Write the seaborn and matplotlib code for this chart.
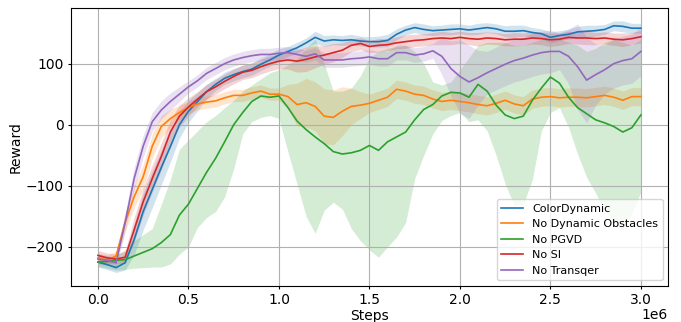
import numpy as np
import pandas as pd
import matplotlib
matplotlib.use("Agg")
import matplotlib.pyplot as plt
import seaborn as sns

# ---------------- data ----------------
steps = np.linspace(0, 3e6, 61)

methods = ["ColorDynamic", "No Dynamic Obstacles", "No PGVD", "No SI", "No Transqer"]
colors = ["#1f77b4", "#ff7f0e", "#2ca02c", "#d62728", "#9467bd"]

color_dynamic = [-225, -229, -234, -226, -188, -142, -106, -70, -36, 0,
                 22, 38, 54, 66, 76, 82, 87, 91, 99, 106,
                 114, 120, 126, 134, 143, 137, 139, 138, 139, 137,
                 136, 136, 138, 148, 155, 159, 156, 154, 155, 156,
                 157, 155, 157, 159, 157, 153, 153, 154, 151, 149,
                 143, 146, 148, 152, 153, 154, 156, 162, 161, 158, 158]
color_dynamic_hw = [8, 8, 8, 12, 25, 30, 30, 28, 25, 22,
                    18, 15, 12, 10, 10, 10, 10, 10, 10, 10,
                    10, 8, 9, 8, 10, 9, 8, 8, 9, 8,
                    8, 9, 10, 9, 8, 8, 9, 8, 8, 9,
                    8, 8, 9, 8, 8, 9, 10, 9, 8, 8,
                    9, 8, 8, 9, 10, 9, 8, 8, 9, 8, 8]

no_dyn_obs = [-218, -222, -215, -160, -118, -85, -35, -3, 10, 20,
              28, 34, 37, 39, 44, 48, 48, 52, 55, 50,
              50, 46, 33, 36, 30, 14, 12, 22, 30, 32,
              35, 40, 45, 58, 55, 50, 48, 42, 38, 40,
              38, 36, 33, 31, 35, 40, 34, 31, 42, 45,
              46, 44, 45, 45, 44, 46, 48, 45, 40, 46, 46]
no_dyn_obs_hw = [8, 8, 8, 15, 18, 20, 20, 18, 15, 12,
                 10, 10, 10, 10, 10, 10, 10, 10, 10, 10,
                 10, 20, 35, 40, 40, 45, 45, 40, 30, 22,
                 15, 15, 15, 15, 15, 15, 15, 15, 15, 15,
                 15, 15, 15, 15, 15, 15, 15, 15, 15, 15,
                 15, 15, 15, 15, 15, 15, 15, 15, 15, 15, 15]

no_pgvd = [-225, -224, -222, -221, -215, -209, -203, -193, -180, -148,
           -130, -104, -78, -55, -28, 0, 20, 38, 47, 45,
           47, 28, 6, -8, -20, -31, -44, -48, -46, -42,
           -34, -42, -28, -20, -12, 8, 25, 33, 47, 53,
           52, 45, 66, 55, 32, 16, 10, 14, 40, 60,
           78, 68, 45, 28, 18, 8, 3, -3, -12, -5, 16]
no_pgvd_low = [-232, -235, -238, -237, -235, -234, -233, -233, -228, -212,
               -200, -168, -152, -142, -118, -72, -15, 5, 12, 15,
               10, -45, -97, -150, -178, -140, -127, -138, -170, -190,
               -205, -217, -200, -184, -160, -88, -50, -15, 7, 15,
               20, 5, 8, -10, -50, -97, -132, -130, -90, -10,
               20, 28, -4, -48, -86, -112, -140, -160, -173, -145, -110]
no_pgvd_high = [-215, -218, -215, -205, -190, -180, -170, -130, -90, -40,
                -25, -10, 5, 15, 28, 40, 55, 65, 75, 85,
                90, 98, 108, 125, 140, 100, 55, 55, 60, 80,
                110, 120, 125, 128, 130, 120, 100, 70, 65, 70,
                90, 110, 130, 135, 135, 135, 130, 130, 135, 140,
                140, 140, 135, 130, 120, 125, 135, 140, 135, 130, 140]

no_si = [-214, -218, -220, -217, -172, -126, -88, -52, -12, 14,
         29, 42, 54, 62, 71, 79, 86, 89, 95, 100,
         104, 106, 104, 107, 111, 114, 118, 122, 130, 133,
         128, 130, 131, 134, 136, 138, 139, 141, 142, 141,
         143, 141, 140, 142, 141, 139, 140, 140, 142, 141,
         139, 140, 143, 142, 142, 141, 142, 140, 139, 141, 144]
no_si_hw = [8, 8, 8, 10, 20, 22, 22, 22, 20, 18,
            15, 12, 12, 12, 12, 12, 12, 12, 12, 12,
            12, 15, 18, 20, 18, 15, 15, 12, 10, 10,
            10, 11, 10, 10, 11, 10, 10, 10, 11, 10,
            10, 10, 11, 10, 10, 10, 11, 10, 10, 10,
            11, 10, 10, 10, 11, 10, 10, 10, 11, 10, 10]

no_transqer = [-220, -222, -226, -160, -88, -35, 5, 24, 38, 50,
               62, 72, 84, 92, 100, 106, 110, 113, 115, 115,
               117, 118, 115, 112, 116, 106, 106, 106, 108, 109,
               111, 108, 108, 118, 118, 114, 116, 121, 112, 92,
               79, 70, 77, 85, 92, 99, 105, 109, 114, 118,
               120, 120, 112, 95, 73, 82, 90, 100, 105, 108, 120]
no_transqer_hw = [8, 8, 8, 15, 18, 18, 15, 15, 14, 12,
                  10, 10, 10, 10, 10, 10, 10, 10, 10, 10,
                  10, 10, 10, 10, 10, 12, 12, 12, 12, 12,
                  12, 12, 12, 12, 12, 12, 12, 12, 30, 45,
                  60, 60, 45, 35, 35, 35, 35, 35, 35, 35,
                  35, 30, 45, 70, 70, 50, 40, 40, 40, 40, 40]

# ---------------- build table ----------------
means = [color_dynamic, no_dyn_obs, no_pgvd, no_si, no_transqer]
lows = [np.array(color_dynamic) - np.array(color_dynamic_hw),
        np.array(no_dyn_obs) - np.array(no_dyn_obs_hw),
        np.array(no_pgvd_low),
        np.array(no_si) - np.array(no_si_hw),
        np.array(no_transqer) - np.array(no_transqer_hw)]
highs = [np.array(color_dynamic) + np.array(color_dynamic_hw),
         np.array(no_dyn_obs) + np.array(no_dyn_obs_hw),
         np.array(no_pgvd_high),
         np.array(no_si) + np.array(no_si_hw),
         np.array(no_transqer) + np.array(no_transqer_hw)]

df = pd.concat([pd.DataFrame({"Steps": steps, "Reward": m, "Method": name})
                for name, m in zip(methods, means)], ignore_index=True)

# ---------------- plot ----------------
fig, ax = plt.subplots(figsize=(6.81, 3.22), dpi=100)
fig.subplots_adjust(left=0.104, right=0.981, top=0.975, bottom=0.112)

for lo, hi, c in zip(lows, highs, colors):
    ax.fill_between(steps, lo, hi, color=c, alpha=0.2, linewidth=0)

sns.lineplot(data=df, x="Steps", y="Reward", hue="Method",
             hue_order=methods, palette=colors, linewidth=1.2, ax=ax)

ax.grid(True, color="#b0b0b0", linewidth=0.8)
ax.set_ylim(-264, 191)
ax.set_xlabel("Steps", fontsize=10)
ax.set_ylabel("Reward", fontsize=10)
ax.tick_params(labelsize=10, length=2.5, pad=2.8)
ax.xaxis.set_label_coords(0.5, -0.083)
ax.yaxis.set_label_coords(-0.080, 0.5)
ax.xaxis.OFFSETTEXTPAD = 0.2

handles, labels = ax.get_legend_handles_labels()
ax.legend(handles, labels, loc="lower right", fontsize=8)

fig.savefig("out.png", dpi=100)
